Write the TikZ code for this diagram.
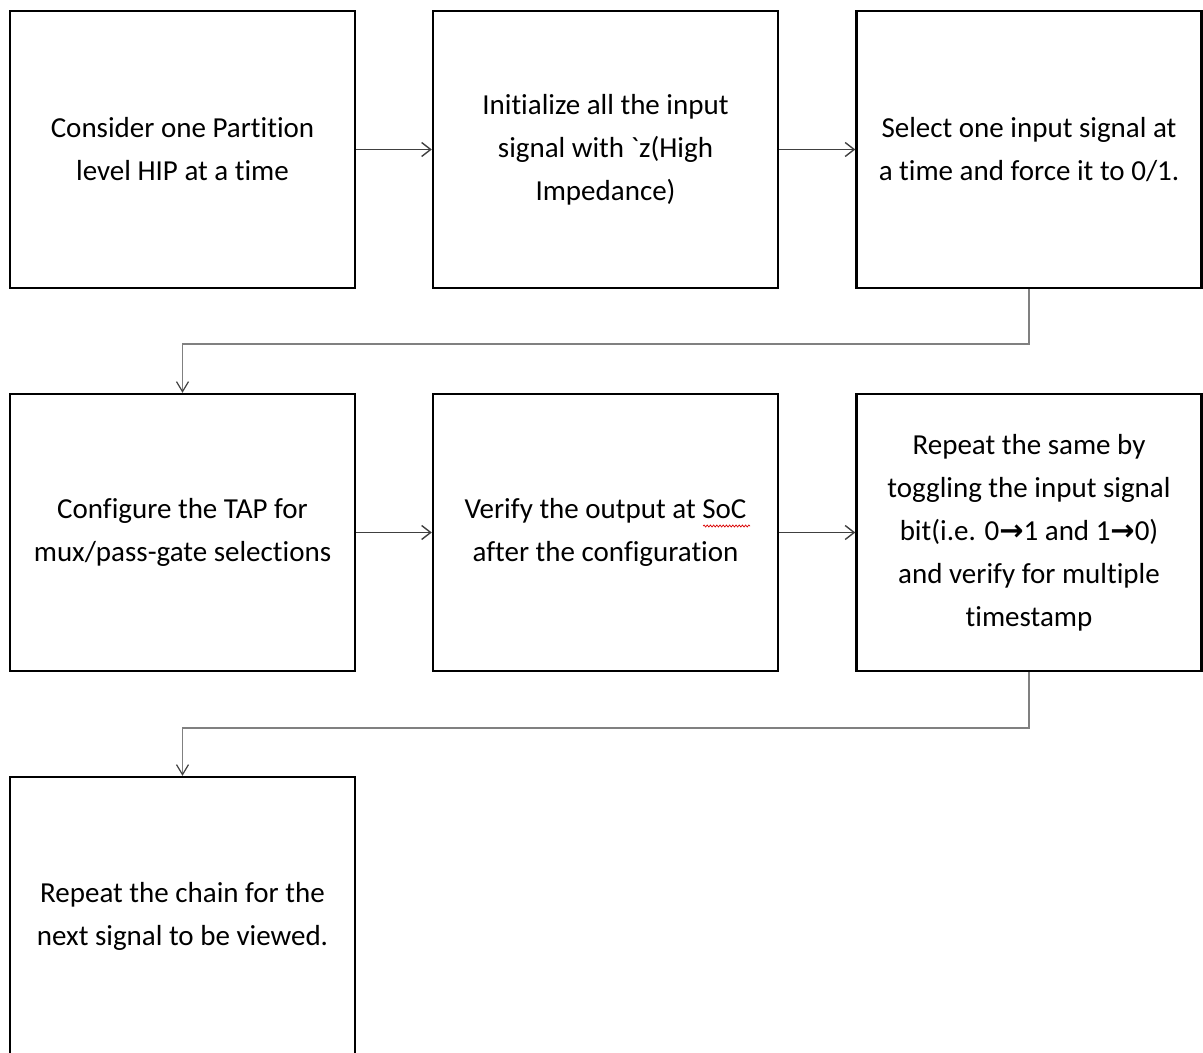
\documentclass[tikz,border=0pt]{standalone}
\usepackage{fontspec}
\newfontfamily\boxfont{Carlito}[Ligatures={NoCommon,NoContextual}]
\newfontfamily\symfont{DejaVu Sans}
\usetikzlibrary{arrows.meta,decorations.pathmorphing}
\newcommand\tgarrow{{\symfont\bfseries\fontsize{14.5}{14.5}\selectfont →}}
\begin{document}
\begin{tikzpicture}[x=0.5pt,y=-0.5pt,
  stepbox/.style={draw=black, line width=1.2pt, minimum width=172.5pt,
    minimum height=138.5pt, inner sep=0pt, align=center,
    font=\boxfont\fontsize{14.5}{21.5}\selectfont},
  flow/.style={draw=black!75, line width=0.6pt,
    -{Straight Barb[length=4.5pt,width=7pt,line width=0.7pt]}},
  elbow/.style={draw=black!50, line width=0.9pt,
    -{Straight Barb[length=5pt,width=6pt,line width=0.6pt,color=black!75]}},
  spell/.style={draw=red!85!black, line width=0.35pt,
    decorate, decoration={snake, amplitude=0.5pt, segment length=1.6pt}}]
\useasboundingbox (0,0) rectangle (1203,1053);
\clip (0,0) rectangle (1203,1053);

% first row
\node[stepbox] (b1) at (182.5,149.5) {Consider one Partition\\level HIP at a time};
\node[stepbox] (b2) at (605.5,149.5) {Initialize all the input\\signal with `z(High\\Impedance)};
\node[stepbox] (b3) at (1029,149.5) {Select one input signal at\\a time and force it to 0/1.};

% second row
\node[stepbox] (b4) at (182.5,532.5) {Configure the TAP for\\mux/pass-gate selections};
\node[stepbox] (b5) at (605.5,532.5) {Verify the output at SoC\\after the configuration};
\node[stepbox] (b6) at (1029,532.5) {Repeat the same by\\toggling the input signal\\bit(i.e. 0\tgarrow1 and 1\tgarrow0)\\and verify for multiple\\timestamp};

% third row
\node[stepbox, minimum height=139.5pt] (b7) at (182.5,916.5) {Repeat the chain for the\\next signal to be viewed.};

% connectors
\draw[flow] (b1.east) -- (b2.west);
\draw[flow] (b2.east) -- (b3.west);
\draw[flow] (b4.east) -- (b5.west);
\draw[flow] (b5.east) -- (b6.west);
\draw[elbow] (b3.south) -- ++(0,55) -| (b4.north);
\draw[elbow] (b6.south) -- ++(0,56) -| (b7.north);

% spell-check mark under SoC
\draw[spell] (703,526) -- (750,526);
\end{tikzpicture}
\end{document}
